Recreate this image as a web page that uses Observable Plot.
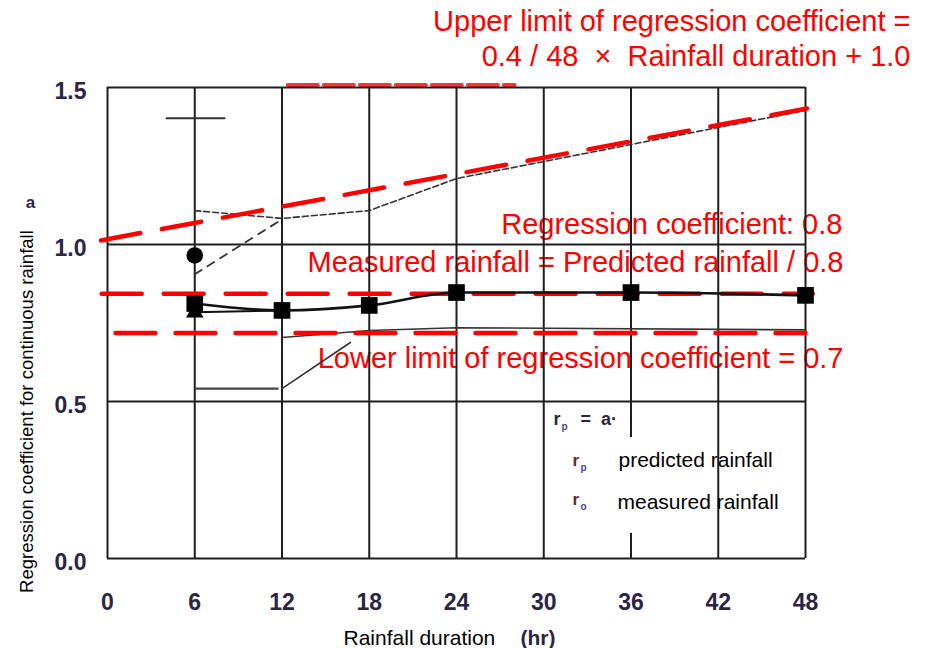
<!DOCTYPE html>
<html><head><meta charset="utf-8">
<script src="https://cdn.jsdelivr.net/npm/d3@7"></script>
<script src="https://cdn.jsdelivr.net/npm/@observablehq/plot@0.6"></script>
<style>
html,body{margin:0;padding:0;background:#fff;}
#chart svg{display:block;}
</style></head><body><div id="chart"></div>
<script>
// ---- axis ticks ----
const durationTicks = [0, 6, 12, 18, 24, 30, 36, 42, 48];
const durationTickLabels = ["0", "6", "12", "18", "24", "30", "36", "42", "48"];
const coefTicks = [0, 0.5, 1.0, 1.5];
const coefTickLabels = ["0.0", "0.5", "1.0", "1.5"];

// ---- measured series (black) ----
const squareDurations = [6, 12, 18, 24, 36, 48];
const squareCoefs = [0.812, 0.790, 0.806, 0.847, 0.847, 0.838];
const circleDurations = [6];
const circleCoefs = [0.965];
const triangleDurations = [6, 12];
const triangleCoefs = [0.784, 0.790];

// ---- envelope / range lines (thin black) ----
const upperEnvDurations = [6, 12, 18, 24, 48];
const upperEnvCoefs = [1.108, 1.083, 1.108, 1.21, 1.427];
const risingDurations = [6, 12];
const risingCoefs = [0.905, 1.08];
const lowerEnvDurations = [12, 18, 24, 48];
const lowerEnvCoefs = [0.704, 0.726, 0.735, 0.728];
const diagDurations = [12, 16.7];
const diagCoefs = [0.541, 0.688];
const barTopDurations = [4.06, 8.05];
const barTopCoefs = [1.402, 1.402];
const barBottomDurations = [6.1, 11.7];
const barBottomCoefs = [0.541, 0.541];

// ---- red reference lines ----
const upperLimitDurations = [-0.45, 48.1];
const upperLimitCoefs = [1.013, 1.433];
const regressionDurations = [-0.4, 48.5];
const regressionCoefs = [0.843, 0.843];
const lowerLimitDurations = [0.55, 48];
const lowerLimitCoefs = [0.718, 0.718];
const remnantDurations = [12.4, 28];
const remnantCoefs = [1.508, 1.508];

const zip = (xs, ys) => xs.map((x, i) => ({x, y: ys[i]}));

const font = "'Liberation Sans', Arial, sans-serif";
const scanColor = "#2b2545";

const red = "#ff0000";
const redDash = {stroke: red, strokeWidth: 4.5, strokeDasharray: "40,22"};
const thinDash = {stroke: "#333", strokeWidth: 1.6, strokeDasharray: "6,3"};

const chart = Plot.plot({
  width: 926,
  height: 648,
  marginLeft: 107,
  marginRight: 121,
  marginTop: 87,
  marginBottom: 90,
  x: {domain: [0, 48], axis: null},
  y: {domain: [0, 1.5], axis: null},
  style: {fontFamily: font, background: "#fff", overflow: "visible"},
  marks: [
    // red annotations (under the grid, as in the scan)
    Plot.text([{x: 55.22, y: 1.570, t: "Upper limit of regression coefficient =\n0.4 / 48\u00a0 ×\u00a0 Rainfall duration + 1.0"}],
      {x: "x", y: "y", text: "t", textAnchor: "end", lineAnchor: "bottom", lineHeight: 1.207, fontSize: 29, fill: red}),
    Plot.text([{x: 50.54, y: 1.035, t: "Regression coefficient: 0.8"}],
      {x: "x", y: "y", text: "t", textAnchor: "end", lineAnchor: "bottom", fontSize: 29, fill: red}),
    Plot.text([{x: 50.61, y: 0.911, t: "Measured rainfall = Predicted rainfall / 0.8"}],
      {x: "x", y: "y", text: "t", textAnchor: "end", lineAnchor: "bottom", fontSize: 29, fill: red}),
    Plot.text([{x: 50.61, y: 0.608, t: "Lower limit of regression coefficient = 0.7"}],
      {x: "x", y: "y", text: "t", textAnchor: "end", lineAnchor: "bottom", fontSize: 29, fill: red}),
    Plot.line(zip(remnantDurations, remnantCoefs), {x: "x", y: "y", stroke: red, strokeWidth: 4, strokeDasharray: "30,6", strokeOpacity: 0.8}),

    // grid and frame
    Plot.ruleX(durationTicks, {y1: 0, y2: 1.5, stroke: "#1e1e1e", strokeWidth: 2}),
    Plot.ruleY(coefTicks, {x1: 0, x2: 48, stroke: "#1e1e1e", strokeWidth: 2}),

    // legend box
    Plot.rect([{x1: 34.38, x2: 41.88, y1: 0.080, y2: 0.385}], {x1: "x1", x2: "x2", y1: "y1", y2: "y2", fill: "#fff"}),
    Plot.text([{x: 30.67, y: 0.424}], {x: "x", y: "y", text: () => "r", textAnchor: "start", lineAnchor: "bottom", fontSize: 18, fontWeight: "bold", fill: scanColor}),
    Plot.text([{x: 30.67, y: 0.424}], {x: "x", y: "y", text: () => "p", dx: 8, dy: 5, textAnchor: "start", lineAnchor: "bottom", fontSize: 10, fontWeight: "bold", fill: "#3a4a90"}),
    Plot.text([{x: 30.67, y: 0.424}], {x: "x", y: "y", text: () => "=  a·", dx: 27, textAnchor: "start", lineAnchor: "bottom", fontSize: 18, fontWeight: "bold", fill: scanColor}),
    Plot.text([{x: 31.98, y: 0.296, s: "p"}, {x: 31.98, y: 0.169, s: "o"}], {x: "x", y: "y", text: () => "r", textAnchor: "start", lineAnchor: "bottom", fontSize: 17, fontWeight: "bold", fill: "#5a2a3a"}),
    Plot.text([{x: 31.98, y: 0.296, s: "p"}, {x: 31.98, y: 0.169, s: "o"}], {x: "x", y: "y", text: "s", dx: 8, dy: 5, textAnchor: "start", lineAnchor: "bottom", fontSize: 10, fontWeight: "bold", fill: "#3a4a90"}),
    Plot.text([{x: 35.14, y: 0.290, t: "predicted rainfall"}, {x: 35.07, y: 0.159, t: "measured rainfall"}],
      {x: "x", y: "y", text: "t", textAnchor: "start", lineAnchor: "bottom", fontSize: 21, fill: "#000"}),

    // thin black envelopes and range bars
    Plot.line(zip(upperEnvDurations, upperEnvCoefs), {x: "x", y: "y", ...thinDash}),
    Plot.line(zip(risingDurations, risingCoefs), {x: "x", y: "y", stroke: "#333", strokeWidth: 1.8, strokeDasharray: "8,7"}),
    Plot.line(zip(lowerEnvDurations, lowerEnvCoefs), {x: "x", y: "y", stroke: "#333", strokeWidth: 1.6}),
    Plot.line(zip(diagDurations, diagCoefs), {x: "x", y: "y", stroke: "#333", strokeWidth: 1.6}),
    Plot.line(zip(barTopDurations, barTopCoefs), {x: "x", y: "y", stroke: "#333", strokeWidth: 2}),
    Plot.line(zip(barBottomDurations, barBottomCoefs), {x: "x", y: "y", stroke: "#444", strokeWidth: 2.2}),

    // red reference lines
    Plot.line(zip(upperLimitDurations, upperLimitCoefs), {x: "x", y: "y", ...redDash}),
    Plot.line(zip(regressionDurations, regressionCoefs), {x: "x", y: "y", ...redDash}),
    Plot.line(zip(lowerLimitDurations, lowerLimitCoefs), {x: "x", y: "y", ...redDash, strokeDasharray: "40,20"}),

    // measured series
    Plot.line(zip(triangleDurations, triangleCoefs), {x: "x", y: "y", stroke: "#111", strokeWidth: 2}),
    Plot.line(zip(squareDurations, squareCoefs), {x: "x", y: "y", stroke: "#111", strokeWidth: 2.6, curve: "monotone-x"}),
    Plot.dot(zip(triangleDurations.slice(0, 1), triangleCoefs.slice(0, 1)), {x: "x", y: "y", symbol: "triangle", r: 6.5, fill: "#000", stroke: "none"}),
    Plot.dot(zip(squareDurations, squareCoefs), {x: "x", y: "y", symbol: "square", r: 9.4, fill: "#000", stroke: "none"}),
    Plot.dot(zip(circleDurations, circleCoefs), {x: "x", y: "y", symbol: "circle", r: 8.3, fill: "#000", stroke: "none"}),

    // tick labels
    Plot.text(durationTicks, {x: d => d, frameAnchor: "bottom", text: (d, i) => durationTickLabels[i], dy: 44, lineAnchor: "middle", fontSize: 23, fontWeight: "bold", fill: scanColor}),
    Plot.text(coefTicks, {y: d => d, frameAnchor: "left", text: (d, i) => coefTickLabels[i], dx: -21, dy: 4, textAnchor: "end", fontSize: 23, fontWeight: "bold", fill: scanColor}),

    // axis titles
    Plot.text([{x: -5.5, y: 0.468, t: "Regression coefficient for continuous rainfall"}],
      {x: "x", y: "y", text: "t", rotate: -90, fontSize: 18.5, fill: "#000"}),
    Plot.text([{x: -5.3, y: 1.134, t: "a"}],
      {x: "x", y: "y", text: "t", fontSize: 17, fontWeight: "bold", fill: scanColor}),
    Plot.text([{x: 16.23, y: -0.274, t: "Rainfall duration"}],
      {x: "x", y: "y", text: "t", textAnchor: "start", lineAnchor: "bottom", fontSize: 21, fill: "#000"}),
    Plot.text([{x: 28.4, y: -0.274, t: "(hr)"}],
      {x: "x", y: "y", text: "t", textAnchor: "start", lineAnchor: "bottom", fontSize: 21, fontWeight: "bold", fill: scanColor})
  ]
});
document.getElementById("chart").appendChild(chart);
</script>
</body></html>
